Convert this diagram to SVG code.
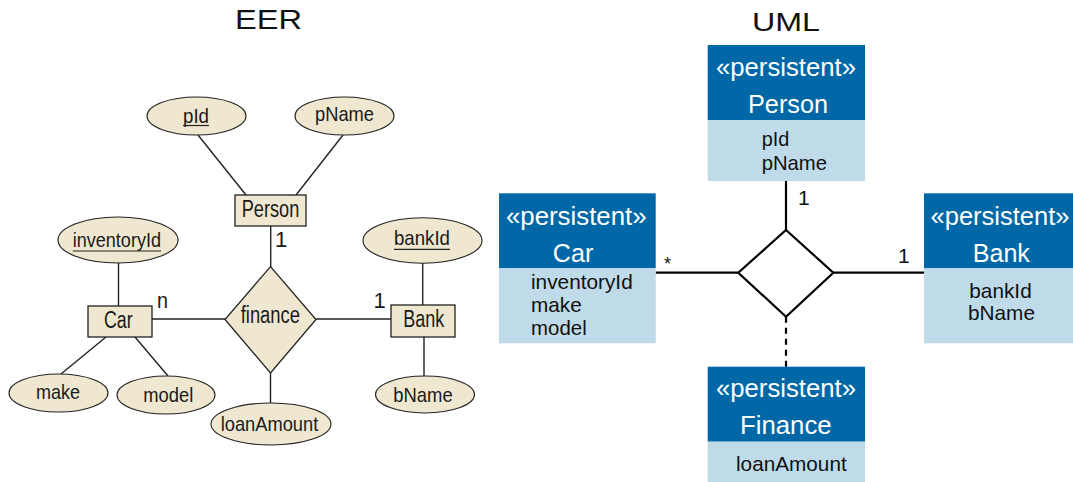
<svg xmlns="http://www.w3.org/2000/svg" width="1073" height="482" viewBox="0 0 1073 482">
<style>
text{font-family:"Liberation Sans",Arial,sans-serif;fill:#1a1a1a}
.title{font-size:28px;fill:#111}
.ent{font-size:23px}
.att{font-size:21px}
.lbl{font-size:22px}
.shape{fill:#efe7cf;stroke:#222;stroke-width:1.3}
.ell{fill:#efe7cf;stroke:#222;stroke-width:1.1}
.eline{stroke:#222;stroke-width:1.4;fill:none}
.ul{stroke:#222;stroke-width:1.2}
.hdr{fill:#0068a6}
.body{fill:#bfdbe9}
.st{font-size:26px;fill:#fff}
.uatt{font-size:21px;fill:#111}
.uline{stroke:#000;stroke-width:2.2;fill:none}
</style>

<text class="title" x="235" y="29" textLength="67" lengthAdjust="spacingAndGlyphs">EER</text>
<text class="title" x="752" y="30.5" style="font-size:25px" textLength="68" lengthAdjust="spacingAndGlyphs">UML</text>

<g id="eer-connectors">
<line class="eline" x1="198" y1="135" x2="246" y2="195"/>
<line class="eline" x1="343" y1="135" x2="296" y2="195"/>
<line class="eline" x1="270.7" y1="226" x2="270.7" y2="267"/>
<line class="eline" x1="118.5" y1="263" x2="118.5" y2="306"/>
<line class="eline" x1="152" y1="319" x2="225" y2="319"/>
<line class="eline" x1="316" y1="319" x2="391" y2="319"/>
<line class="eline" x1="422.7" y1="263" x2="422.7" y2="305"/>
<line class="eline" x1="424" y1="337" x2="424" y2="376"/>
<line class="eline" x1="106" y1="337" x2="61" y2="374"/>
<line class="eline" x1="135" y1="337" x2="168" y2="376"/>
<line class="eline" x1="270.5" y1="373" x2="270.5" y2="403"/>
<text class="lbl" x="275" y="246.7">1</text>
<text class="lbl" x="157" y="308.3" textLength="11" lengthAdjust="spacingAndGlyphs">n</text>
<text class="lbl" x="373.5" y="308.3">1</text>
</g>

<g id="eer-pId">
<ellipse class="ell" cx="196.5" cy="116" rx="49.5" ry="19"/>
<text class="att" x="183" y="122.5" textLength="26" lengthAdjust="spacingAndGlyphs">pId</text>
<line class="ul" x1="183" y1="125.5" x2="209" y2="125.5"/>
</g>
<g id="eer-pName">
<ellipse class="ell" cx="344.5" cy="116" rx="49.5" ry="19"/>
<text class="att" x="315" y="121" textLength="59" lengthAdjust="spacingAndGlyphs">pName</text>
</g>
<g id="eer-Person">
<rect class="shape" x="235" y="195" width="71" height="31"/>
<text class="ent" x="241.7" y="216.7" textLength="57.6" lengthAdjust="spacingAndGlyphs">Person</text>
</g>
<g id="eer-inventoryId">
<ellipse class="ell" cx="118" cy="240" rx="60" ry="23"/>
<text class="att" x="72.7" y="246.7" textLength="88.3" lengthAdjust="spacingAndGlyphs">inventoryId</text>
<line class="ul" x1="72.7" y1="251" x2="161" y2="251"/>
</g>
<g id="eer-bankId">
<ellipse class="ell" cx="422.5" cy="240.5" rx="59.5" ry="22.7"/>
<text class="att" x="394" y="245" textLength="56" lengthAdjust="spacingAndGlyphs">bankId</text>
<line class="ul" x1="394" y1="249.3" x2="450" y2="249.3"/>
</g>
<g id="eer-Car">
<rect class="shape" x="88" y="306" width="64" height="31"/>
<text class="ent" x="104" y="328.3" textLength="28.7" lengthAdjust="spacingAndGlyphs">Car</text>
</g>
<g id="eer-finance">
<polygon class="shape" points="270.5,266.7 316,319.5 270.5,373 225,319.5"/>
<text class="ent" x="240.7" y="322.7" textLength="59.3" lengthAdjust="spacingAndGlyphs">finance</text>
</g>
<g id="eer-Bank">
<rect class="shape" x="391" y="305" width="64" height="32"/>
<text class="ent" x="403.3" y="326.7" textLength="41" lengthAdjust="spacingAndGlyphs">Bank</text>
</g>
<g id="eer-make">
<ellipse class="ell" cx="58.5" cy="393" rx="49.5" ry="19"/>
<text class="att" x="36" y="399.3" textLength="44" lengthAdjust="spacingAndGlyphs">make</text>
</g>
<g id="eer-model">
<ellipse class="ell" cx="166" cy="395" rx="49" ry="19"/>
<text class="att" x="143.3" y="401.7" textLength="50" lengthAdjust="spacingAndGlyphs">model</text>
</g>
<g id="eer-loanAmount">
<ellipse class="ell" cx="271" cy="424" rx="60" ry="21"/>
<text class="att" x="220.7" y="430.7" textLength="97.6" lengthAdjust="spacingAndGlyphs">loanAmount</text>
</g>
<g id="eer-bName">
<ellipse class="ell" cx="425" cy="394.5" rx="49.5" ry="18.5"/>
<text class="att" x="393.3" y="401.7" textLength="59.4" lengthAdjust="spacingAndGlyphs">bName</text>
</g>

<g id="uml-connectors">
<line class="uline" x1="786" y1="181" x2="786" y2="230"/>
<line class="uline" x1="655.7" y1="272.7" x2="738.3" y2="272.7"/>
<line class="uline" x1="833.3" y1="272.7" x2="924" y2="272.7"/>
<line class="uline" x1="786" y1="316.7" x2="786" y2="366.7" stroke-dasharray="6,5"/>
<polygon class="uline" style="fill:#fff" points="786,230 833.3,272.7 786,316.7 738.3,272.7"/>
<text class="uatt" x="798" y="205">1</text>
<text class="uatt" x="898" y="263.3">1</text>
<text class="uatt" x="664" y="270" style="font-size:18px">*</text>
</g>

<g id="uml-Person">
<rect class="hdr" x="707.7" y="45" width="157.3" height="75"/>
<rect class="body" x="707.7" y="120" width="157.3" height="61"/>
<text class="st" x="786" y="75.5" text-anchor="middle" textLength="140" lengthAdjust="spacingAndGlyphs">«persistent»</text>
<text class="st" x="788" y="112.5" text-anchor="middle" textLength="80" lengthAdjust="spacingAndGlyphs">Person</text>
<text class="uatt" x="761.7" y="146" textLength="27.6" lengthAdjust="spacingAndGlyphs">pId</text>
<text class="uatt" x="761.7" y="170" textLength="65.3" lengthAdjust="spacingAndGlyphs">pName</text>
</g>

<g id="uml-Car">
<rect class="hdr" x="499" y="193.3" width="156.7" height="75"/>
<rect class="body" x="499" y="268.3" width="156.7" height="75"/>
<text class="st" x="576.3" y="224.5" text-anchor="middle" textLength="140.7" lengthAdjust="spacingAndGlyphs">«persistent»</text>
<text class="st" x="573" y="261.5" text-anchor="middle" textLength="40.6" lengthAdjust="spacingAndGlyphs">Car</text>
<text class="uatt" x="531" y="289.3" textLength="101.7" lengthAdjust="spacingAndGlyphs">inventoryId</text>
<text class="uatt" x="531" y="311.7" textLength="50.7" lengthAdjust="spacingAndGlyphs">make</text>
<text class="uatt" x="531" y="335" textLength="55.7" lengthAdjust="spacingAndGlyphs">model</text>
</g>

<g id="uml-Bank">
<rect class="hdr" x="924" y="193.3" width="149" height="75"/>
<rect class="body" x="924" y="268.3" width="149" height="75"/>
<text class="st" x="1000" y="224.5" text-anchor="middle" textLength="139" lengthAdjust="spacingAndGlyphs">«persistent»</text>
<text class="st" x="1001.3" y="261.5" text-anchor="middle" textLength="57.3" lengthAdjust="spacingAndGlyphs">Bank</text>
<text class="uatt" x="969.3" y="298.3" textLength="62.4" lengthAdjust="spacingAndGlyphs">bankId</text>
<text class="uatt" x="968" y="320" textLength="67" lengthAdjust="spacingAndGlyphs">bName</text>
</g>

<g id="uml-Finance">
<rect class="hdr" x="707.7" y="366.7" width="157.3" height="75"/>
<rect class="body" x="707.7" y="441.7" width="157.3" height="40.3"/>
<text class="st" x="786" y="397" text-anchor="middle" textLength="140" lengthAdjust="spacingAndGlyphs">«persistent»</text>
<text class="st" x="785.8" y="434" text-anchor="middle" textLength="91.7" lengthAdjust="spacingAndGlyphs">Finance</text>
<text class="uatt" x="736" y="470.7" textLength="110.7" lengthAdjust="spacingAndGlyphs">loanAmount</text>
</g>
</svg>
